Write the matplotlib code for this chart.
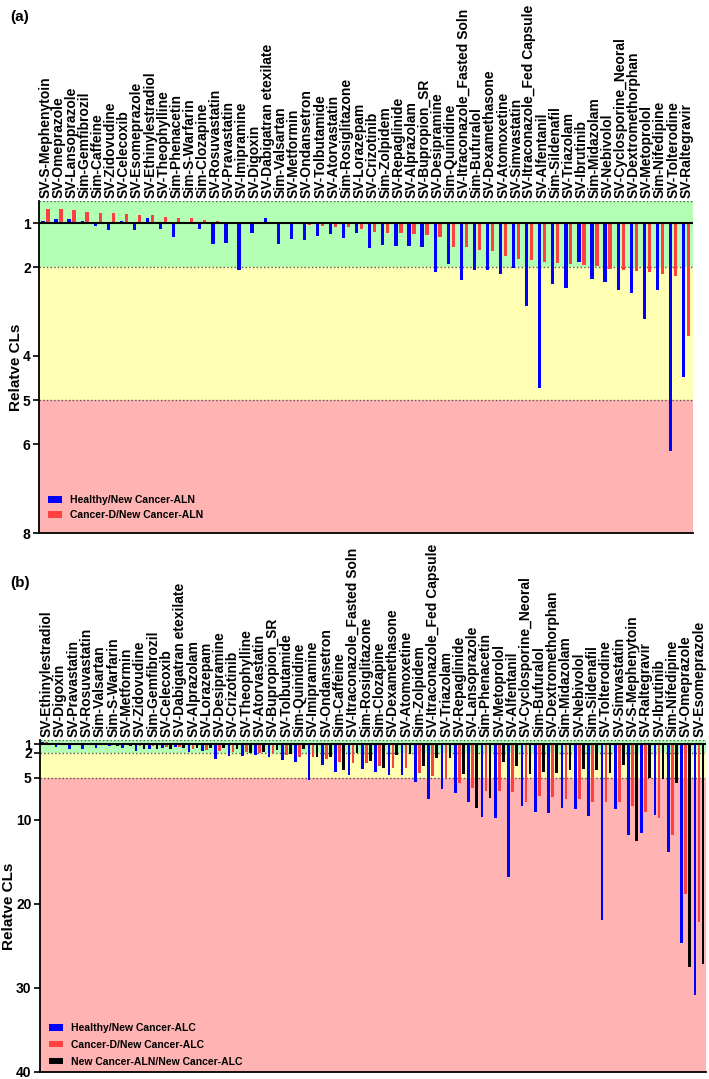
import numpy as np
import matplotlib
matplotlib.use("Agg")
import matplotlib.pyplot as plt

plt.rcParams['font.family'] = ['Liberation Sans', 'DejaVu Sans']

# Panel (a): relative CLs vs New Cancer-ALN
drugs_a = ["SV-S-Mephenytoin", "SV-Omeprazole", "SV-Lansoprazole", "Sim-Gemfibrozil", "Sim-Caffeine",
           "SV-Zidovudine", "SV-Celecoxib", "SV-Esomeprazole", "SV-Ethinylestradiol", "SV-Theophylline",
           "Sim-Phenacetin", "Sim-S-Warfarin", "Sim-Clozapine", "SV-Rosuvastatin", "SV-Pravastatin",
           "SV-Imipramine", "SV-Digoxin", "SV-Dabigatran etexilate", "Sim-Valsartan", "SV-Metformin",
           "SV-Ondansetron", "SV-Tolbutamide", "SV-Atorvastatin", "Sim-Rosiglitazone", "SV-Lorazepam",
           "SV-Crizotinib", "Sim-Zolpidem", "SV-Repaglinide", "SV-Alprazolam", "SV-Bupropion_SR",
           "SV-Desipramine", "Sim-Quinidine", "SV-Itraconazole_Fasted Soln", "Sim-Bufuralol", "SV-Dexamethasone",
           "SV-Atomoxetine", "SV-Simvastatin", "SV-Itraconazole_Fed Capsule", "SV-Alfentanil", "Sim-Sildenafil",
           "SV-Triazolam", "SV-Ibrutinib", "Sim-Midazolam", "SV-Nebivolol", "SV-Cyclosporine_Neoral",
           "SV-Dextromethorphan", "SV-Metoprolol", "Sim-Nifedipine", "SV-Tolterodine", "SV-Raltegravir"]
healthy_a = [0.955, 0.90, 0.895, 0.947, 1.075, 1.15, 0.955, 1.15, 0.88, 1.13,
             1.32, 1.0, 1.13, 1.47, 1.44, 2.05, 1.23, 0.88, 1.46, 1.35,
             1.39, 1.30, 1.25, 1.34, 1.23, 1.56, 1.50, 1.52, 1.51, 1.54,
             2.10, 1.93, 2.28, 2.06, 2.05, 2.14, 2.01, 2.88, 4.73, 2.38,
             2.47, 1.87, 2.26, 2.32, 2.50, 2.58, 3.16, 2.50, 6.15, 4.48]
cancer_d_a = [0.677, 0.684, 0.714, 0.744, 0.767, 0.76, 0.79, 0.81, 0.82, 0.865,
              0.887, 0.887, 0.925, 0.947, 0.985, 1.0, 1.0, 1.0, 1.01, 1.02,
              1.05, 1.075, 1.09, 1.09, 1.13, 1.21, 1.23, 1.23, 1.24, 1.27,
              1.32, 1.53, 1.55, 1.60, 1.63, 1.74, 1.80, 1.84, 1.88, 1.89,
              1.93, 1.94, 1.96, 2.04, 2.05, 2.09, 2.11, 2.14, 2.19, 3.55]

# Panel (b): relative CLs vs New Cancer-ALC
drugs_b = ["SV-Ethinylestradiol", "SV-Digoxin", "SV-Pravastatin", "SV-Rosuvastatin", "Sim-Valsartan",
           "Sim-S-Warfarin", "SV-Metformin", "SV-Zidovudine", "Sim-Gemfibrozil", "SV-Celecoxib",
           "SV-Dabigatran etexilate", "SV-Alprazolam", "SV-Lorazepam", "SV-Desipramine", "SV-Crizotinib",
           "SV-Theophylline", "SV-Atorvastatin", "SV-Bupropion_SR", "SV-Tolbutamide", "Sim-Quinidine",
           "SV-Imipramine", "SV-Ondansetron", "Sim-Caffeine", "SV-Itraconazole_Fasted Soln", "Sim-Rosiglitazone",
           "Sim-Clozapine", "SV-Dexamethasone", "SV-Atomoxetine", "Sim-Zolpidem", "SV-Itraconazole_Fed Capsule",
           "SV-Triazolam", "SV-Repaglinide", "SV-Lansoprazole", "Sim-Phenacetin", "SV-Metoprolol",
           "SV-Alfentanil", "SV-Cyclosporine_Neoral", "Sim-Bufuralol", "SV-Dextromethorphan", "Sim-Midazolam",
           "SV-Nebivolol", "Sim-Sildenafil", "SV-Tolterodine", "SV-Simvastatin", "SV-S-Mephenytoin",
           "SV-Raltegravir", "SV-Ibrutinib", "Sim-Nifedipine", "SV-Omeprazole", "SV-Esomeprazole"]
healthy_b = [0.68, 1.28, 1.5, 1.6, 1.48, 1.24, 1.44, 1.75, 1.55, 1.48,
             1.32, 1.87, 1.83, 2.7, 2.39, 2.39, 2.27, 2.5, 2.85, 3.1,
             5.2, 3.5, 4.25, 4.65, 3.98, 4.3, 4.7, 4.7, 5.44, 7.55,
             6.36, 6.83, 7.9, 9.7, 9.8, 16.8, 8.3, 9.0, 9.2, 8.6,
             8.7, 9.5, 21.9, 8.7, 11.8, 11.6, 9.4, 13.8, 24.7, 30.8]
cancer_d_b = [0.72, 1.05, 1.05, 1.08, 1.1, 1.1, 1.12, 1.15, 1.2, 1.28,
              1.36, 1.6, 1.67, 1.75, 1.87, 1.9, 2.07, 2.05, 2.3, 2.5,
              2.5, 2.7, 3.1, 3.2, 3.2, 3.58, 3.78, 3.8, 4.37, 4.77,
              4.97, 5.56, 6.16, 6.56, 6.56, 6.67, 7.8, 7.2, 7.27, 7.5,
              7.5, 7.9, 7.9, 7.9, 8.3, 9.1, 9.8, 11.8, 18.8, 22.1]
aln_b = [0.9, 1.08, 1.1, 1.05, 1.1, 1.2, 1.2, 1.5, 1.6, 1.5,
         1.45, 1.4, 1.44, 1.4, 1.6, 2.07, 1.87, 1.65, 2.2, 1.6,
         2.5, 2.5, 4.0, 2.0, 3.0, 3.86, 2.3, 2.2, 3.58, 2.6,
         2.6, 4.49, 8.6, 7.43, 3.1, 3.6, 4.5, 4.3, 4.4, 4.0,
         3.9, 4.0, 4.4, 3.4, 12.5, 5.0, 5.1, 5.6, 27.5, 27.1]

GREEN = '#b3ffb3'
YELLOW = '#ffffb3'
PINK = '#ffb3b3'
BLUE = '#0000ff'
RED = '#ff4040'


def style_axes(ax, labels, ymax, ticks):
    n = len(labels)
    ax.axhspan(0.5, 2, color=GREEN, zorder=0, lw=0)
    ax.axhspan(2, 5, color=YELLOW, zorder=0, lw=0)
    ax.axhspan(5, ymax, color=PINK, zorder=0, lw=0)
    for v in (0.5, 2, 5):
        ax.axhline(v, color='#555555', ls=':', lw=1.0, zorder=1)
    ax.axhline(1, color='black', lw=1.5, zorder=4)
    ax.set_xlim(-0.5, n - 0.5)
    ax.set_ylim(ymax, 0.5)
    ax.set_yticks(ticks)
    ax.set_yticklabels([str(t) for t in ticks], fontsize=10, fontweight='bold')
    ax.xaxis.tick_top()
    ax.set_xticks(np.arange(n))
    ax.set_xticklabels(labels, rotation=90, fontsize=10, fontweight='bold')
    ax.tick_params(axis='x', length=0, pad=2)
    ax.tick_params(axis='y', length=4, width=1.2, pad=2)
    for s in ('top', 'right'):
        ax.spines[s].set_visible(False)
    for s in ('left', 'bottom'):
        ax.spines[s].set_linewidth(1.3)
    ax.set_ylabel('Relatve CLs', fontsize=11, fontweight='bold')


fig = plt.figure(figsize=(7.09, 10.79), dpi=100)

# panel a
ax1 = fig.add_axes([0.055, 0.506, 0.922, 0.3077])
x = np.arange(len(drugs_a))
h = np.array(healthy_a)
c = np.array(cancer_d_a)
ax1.bar(x - 0.2, h - 1, bottom=1, width=0.25, color=BLUE, label='Healthy/New Cancer-ALN', zorder=3)
ax1.bar(x + 0.18, c - 1, bottom=1, width=0.25, color=RED, label='Cancer-D/New Cancer-ALN', zorder=3)
style_axes(ax1, drugs_a, 8, [1, 2, 4, 5, 6, 8])
ax1.yaxis.set_label_coords(-0.024, 0.5)
ax1.legend(loc='lower left', bbox_to_anchor=(0.0, 0.01), frameon=False,
           prop={'size': 7.5, 'weight': 'bold'}, handlelength=1.3, handleheight=0.6,
           labelspacing=0.5, handletextpad=0.8)

# panel b
ax2 = fig.add_axes([0.0564, 0.0065, 0.939, 0.3075])
x = np.arange(len(drugs_b))
hb = np.array(healthy_b)
cb = np.array(cancer_d_b)
ab = np.array(aln_b)
ax2.bar(x - 0.3, hb - 1, bottom=1, width=0.2, color=BLUE, label='Healthy/New Cancer-ALC', zorder=3)
ax2.bar(x, cb - 1, bottom=1, width=0.2, color=RED, label='Cancer-D/New Cancer-ALC', zorder=3)
ax2.bar(x + 0.3, ab - 1, bottom=1, width=0.2, color='black', label='New Cancer-ALN/New Cancer-ALC', zorder=3)
style_axes(ax2, drugs_b, 40, [1, 2, 5, 10, 20, 30, 40])
ax2.yaxis.set_label_coords(-0.036, 0.5)
ax2.legend(loc='lower left', bbox_to_anchor=(0.0, -0.012), frameon=False,
           prop={'size': 7.5, 'weight': 'bold'}, handlelength=1.3, handleheight=0.6,
           labelspacing=0.65, handletextpad=0.8)

fig.text(0.014, 0.984, '(a)', fontsize=11, fontweight='bold', va='center')
fig.text(0.014, 0.46, '(b)', fontsize=11, fontweight='bold', va='center')

fig.savefig('out.png', dpi=100)
